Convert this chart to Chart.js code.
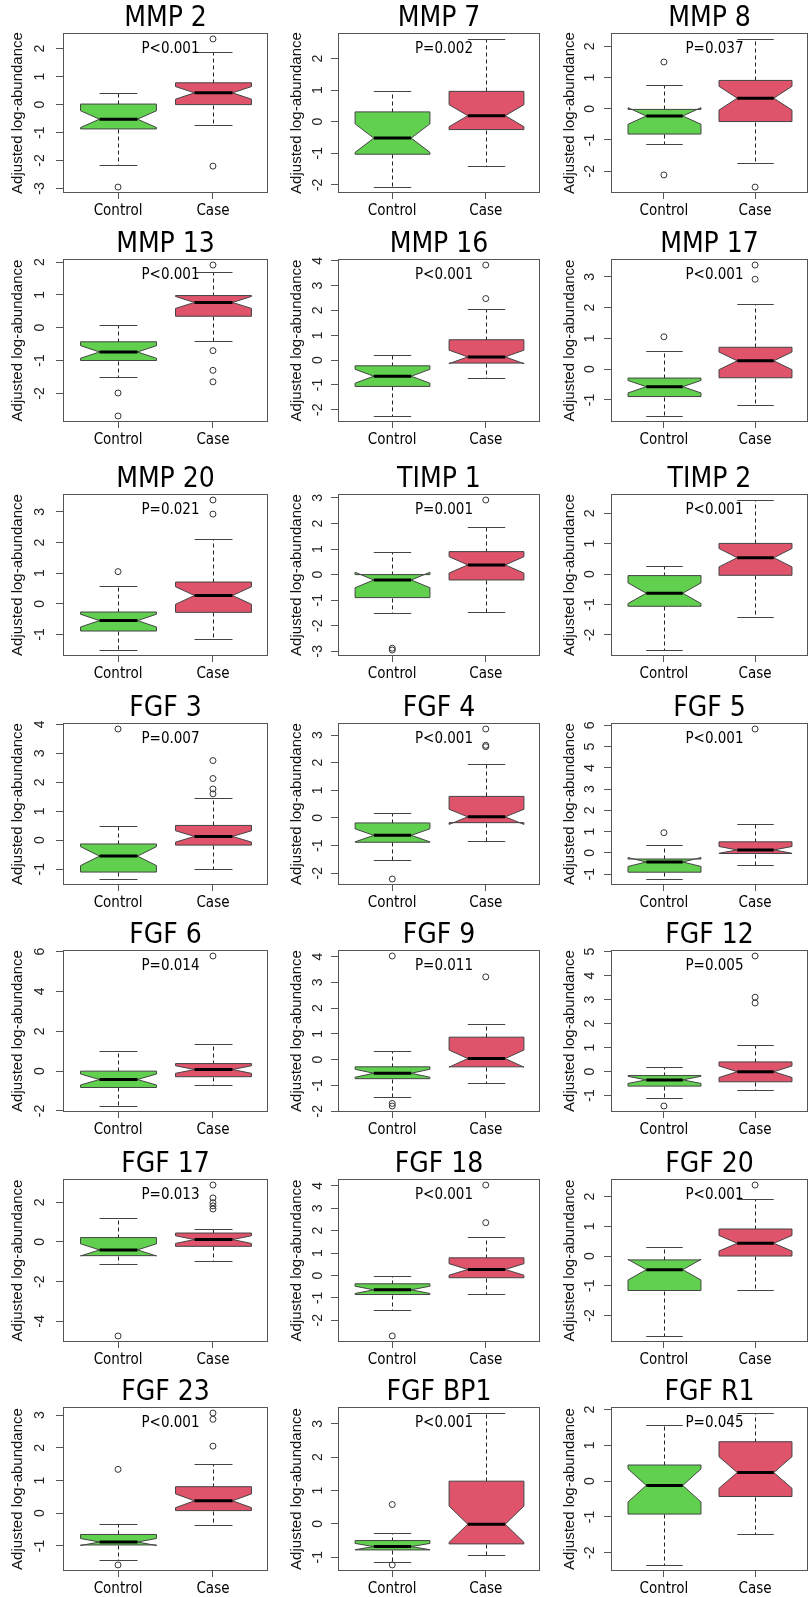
<!DOCTYPE html>
<html>
<head>
<meta charset="utf-8">
<script src="https://cdn.jsdelivr.net/npm/chart.js@4.4.1/dist/chart.umd.min.js"></script>
<style>
  html, body { margin: 0; padding: 0; background: #fff; width: 809px; height: 1597px; overflow: hidden; }
  canvas { position: absolute; }
</style>
</head>
<body>
<script>
// ── Data ──────────────────────────────────────────────────────
const titles = ['MMP 2', 'MMP 7', 'MMP 8', 'MMP 13', 'MMP 16', 'MMP 17', 'MMP 20', 'TIMP 1', 'TIMP 2',
  'FGF 3', 'FGF 4', 'FGF 5', 'FGF 6', 'FGF 9', 'FGF 12', 'FGF 17', 'FGF 18', 'FGF 20', 'FGF 23', 'FGF BP1', 'FGF R1'];
const pValues = ['P<0.001', 'P=0.002', 'P=0.037', 'P<0.001', 'P<0.001', 'P<0.001', 'P=0.021', 'P=0.001', 'P<0.001',
  'P=0.007', 'P<0.001', 'P<0.001', 'P=0.014', 'P=0.011', 'P=0.005', 'P=0.013', 'P<0.001', 'P<0.001', 'P<0.001', 'P<0.001', 'P=0.045'];
const tickStep = [1, 1, 1, 1, 1, 1, 1, 1, 1, 1, 1, 1, 2, 1, 1, 2, 1, 1, 1, 1, 1];
const groupLabels = ['Control', 'Case'];
const nControl = 22, nCase = 30;

const ctrlLow  = [-2.17, -2.07, -1.14, -1.51, -2.25, -1.52, -1.51, -1.51, -2.50, -1.34, -1.51, -1.23, -1.75, -1.47, -1.12, -1.11, -1.52, -2.69, -1.44, -1.15, -2.34];
const ctrlQ1   = [-0.87, -1.03, -0.81, -1.00, -1.06, -0.89, -0.89, -0.90, -1.06, -1.10, -0.88, -0.91, -0.82, -0.74, -0.61, -0.69, -0.85, -1.16, -0.97, -0.78, -0.92];
const ctrlMed  = [-0.52, -0.52, -0.23, -0.74, -0.65, -0.57, -0.55, -0.21, -0.63, -0.55, -0.63, -0.43, -0.42, -0.53, -0.35, -0.40, -0.64, -0.46, -0.88, -0.68, -0.12];
const ctrlQ3   = [0.02, 0.31, -0.02, -0.43, -0.23, -0.29, -0.27, 0.00, -0.05, -0.13, -0.18, -0.29, 0.00, -0.28, -0.17, 0.22, -0.37, -0.13, -0.65, -0.50, 0.45];
const ctrlHigh = [0.42, 0.96, 0.75, 0.07, 0.20, 0.58, 0.59, 0.87, 0.27, 0.49, 0.19, 0.35, 1.00, 0.33, 0.18, 1.19, -0.03, 0.31, -0.32, -0.26, 1.56];
const ctrlOut  = [[-2.95], [], [1.50, -2.12], [-1.99, -2.69], [], [1.05], [1.05], [-2.88, -2.95], [], [3.84], [-2.21], [0.95],
  [], [4.02, -1.70, -1.80], [-1.44], [-4.74], [-2.70], [], [1.34, -1.58], [0.58, -1.23], []];

const caseLow  = [-0.72, -1.39, -1.74, -0.40, -0.73, -1.16, -1.15, -1.45, -1.40, -0.98, -0.84, -0.57, -0.68, -0.90, -0.79, -0.94, -0.81, -1.13, -0.37, -0.92, -1.48];
const caseQ1   = [0.00, -0.25, -0.41, 0.35, -0.12, -0.28, -0.28, -0.21, -0.04, -0.17, -0.17, -0.03, -0.28, -0.28, -0.43, -0.22, -0.10, 0.00, 0.08, -0.60, -0.43];
const caseMed  = [0.42, 0.19, 0.34, 0.77, 0.13, 0.27, 0.27, 0.38, 0.54, 0.13, 0.04, 0.14, 0.08, 0.04, -0.01, 0.12, 0.27, 0.43, 0.38, -0.01, 0.24];
const caseQ3   = [0.78, 0.96, 0.91, 0.98, 0.82, 0.71, 0.71, 0.90, 1.01, 0.51, 0.78, 0.52, 0.38, 0.87, 0.40, 0.45, 0.79, 0.91, 0.81, 1.28, 1.10];
const caseHigh = [1.89, 2.62, 2.24, 1.69, 2.05, 2.12, 2.13, 1.87, 2.44, 1.46, 1.96, 1.37, 1.35, 1.40, 1.10, 0.66, 1.73, 1.92, 1.51, 3.32, 1.90];
const caseOut  = [[2.35, -2.20], [], [-2.51], [1.91, -0.70, -1.30, -1.65], [3.83, 2.48], [3.38, 2.92], [3.39, 2.93], [2.92], [],
  [2.75, 2.13, 1.77, 1.60], [3.22, 2.63, 2.58], [5.83], [5.78], [3.21], [4.82, 3.10, 2.86], [2.87, 2.22, 1.98, 1.82, 1.66],
  [4.04, 2.36], [2.39], [3.06, 2.87, 2.05], [], []];

// ── Layout ────────────────────────────────────────────────────
const rowTop    = [33, 259, 494, 723, 950, 1179, 1407];
const rowBottom = [193, 422, 656, 885, 1112, 1342, 1571];
const colCanvasLeft = [0, 279, 552];
const colBoxLeft    = [63, 338, 611];
const colBoxRight   = [268, 540, 808];
const colTickPad    = [10, 7, 8];
const TITLE_H = 34, XAXIS_H = 28;

const COND = "'DejaVu Sans Condensed', 'Liberation Sans Narrow', sans-serif";
const SANS = "'Liberation Sans', Arial, sans-serif";
const FILLS = ['#61D04F', '#DF536B'];

// ── Box drawing plugin (R style notched boxplot) ──────────────
const boxPlugin = {
  id: 'boxes',
  beforeDatasetsDraw(chart, args, opts) {
    const { ctx, scales: { x, y } } = chart;
    const py = v => Math.round(y.getPixelForValue(v)) + 0.5;
    ctx.save();
    opts.groups.forEach((g, k) => {
      const cx = Math.round(x.getPixelForValue(k + 1)) + 0.5;
      const w = x.getPixelForValue(k + 1.4) - x.getPixelForValue(k + 1);
      const notch = 1.58 * (g.q3 - g.q1) / Math.sqrt(g.n);

      // whiskers
      ctx.strokeStyle = '#222';
      ctx.lineWidth = 1;
      ctx.setLineDash([4, 3]);
      ctx.beginPath();
      ctx.moveTo(cx, py(g.q3)); ctx.lineTo(cx, py(g.high));
      ctx.moveTo(cx, py(g.q1)); ctx.lineTo(cx, py(g.low));
      ctx.stroke();
      ctx.setLineDash([]);

      // staples
      ctx.strokeStyle = '#444';
      ctx.beginPath();
      ctx.moveTo(cx - w / 2, py(g.high)); ctx.lineTo(cx + w / 2, py(g.high));
      ctx.moveTo(cx - w / 2, py(g.low)); ctx.lineTo(cx + w / 2, py(g.low));
      ctx.stroke();

      // notched box
      const pts = [[-1, g.q1], [1, g.q1], [1, g.med - notch], [0.5, g.med], [1, g.med + notch],
                   [1, g.q3], [-1, g.q3], [-1, g.med + notch], [-0.5, g.med], [-1, g.med - notch]];
      ctx.beginPath();
      pts.forEach(([f, v], j) => {
        const px = cx + f * w, yy = y.getPixelForValue(v);
        if (j === 0) ctx.moveTo(px, yy); else ctx.lineTo(px, yy);
      });
      ctx.closePath();
      ctx.fillStyle = FILLS[k];
      ctx.fill();
      ctx.strokeStyle = '#444';
      ctx.stroke();

      // median
      ctx.strokeStyle = '#000';
      ctx.lineWidth = 3;
      ctx.beginPath();
      ctx.moveTo(cx - w / 2, y.getPixelForValue(g.med));
      ctx.lineTo(cx + w / 2, y.getPixelForValue(g.med));
      ctx.stroke();
    });
    ctx.restore();
  },
  afterDraw(chart, args, opts) {
    const { ctx, chartArea: a } = chart;
    ctx.save();
    ctx.strokeStyle = '#555';
    ctx.lineWidth = 1;
    ctx.strokeRect(a.left + 0.5, a.top + 0.5, a.width - 1, a.height - 1);
    ctx.fillStyle = '#000';
    ctx.font = `15px ${COND}`;
    ctx.textAlign = 'center';
    ctx.textBaseline = 'middle';
    ctx.fillText(opts.p, a.left + a.width / 2 + 5, a.top + 16);
    ctx.restore();
  }
};

// ── Build the 21 panels ───────────────────────────────────────
titles.forEach((title, i) => {
  const row = Math.floor(i / 3), col = i % 3;
  const boxH = rowBottom[row] - rowTop[row];
  const cv = document.createElement('canvas');
  const cw = col === 2 ? 809 - colCanvasLeft[col] : colBoxRight[col] - colCanvasLeft[col] + 1;
  const ch = TITLE_H + boxH + XAXIS_H;
  cv.width = cw; cv.height = ch;
  cv.style.left = colCanvasLeft[col] + 'px';
  cv.style.top = (rowTop[row] - TITLE_H) + 'px';
  cv.style.width = cw + 'px'; cv.style.height = ch + 'px';
  document.body.appendChild(cv);

  const groups = [
    { low: ctrlLow[i], q1: ctrlQ1[i], med: ctrlMed[i], q3: ctrlQ3[i], high: ctrlHigh[i], n: nControl },
    { low: caseLow[i], q1: caseQ1[i], med: caseMed[i], q3: caseQ3[i], high: caseHigh[i], n: nCase }
  ];
  const all = [ctrlLow[i], ctrlHigh[i], caseLow[i], caseHigh[i], ...ctrlOut[i], ...caseOut[i]];
  const lo = Math.min(...all), hi = Math.max(...all), ext = (hi - lo) * 0.04;
  const axisW = colBoxLeft[col] - colCanvasLeft[col];
  const rightPad = cw - (colBoxRight[col] - colCanvasLeft[col]);

  const pointStyle = {
    pointRadius: 3, pointBorderWidth: 1, pointBorderColor: '#333',
    pointBackgroundColor: 'rgba(0,0,0,0)', showLine: false
  };

  new Chart(cv, {
    type: 'scatter',
    data: {
      datasets: [
        { data: ctrlOut[i].map(v => ({ x: 1, y: v })), ...pointStyle },
        { data: caseOut[i].map(v => ({ x: 2, y: v })), ...pointStyle }
      ]
    },
    options: {
      responsive: false,
      animation: false,
      devicePixelRatio: 1,
      layout: { padding: { left: 0, right: rightPad, top: 0, bottom: 0 }, autoPadding: false },
      plugins: {
        legend: { display: false },
        tooltip: { enabled: false },
        title: {
          display: true, text: title, fullSize: false, color: '#000',
          font: { family: COND, size: 28, weight: 'normal', lineHeight: 1 },
          padding: { top: 6, bottom: 0 }
        },
        boxes: { groups, p: pValues[i] }
      },
      scales: {
        x: {
          type: 'linear', min: 0.42, max: 2.58,
          afterBuildTicks: s => { s.ticks = [{ value: 1 }, { value: 2 }]; },
          afterFit: s => { s.height = XAXIS_H; },
          ticks: {
            autoSkip: false, maxRotation: 0, padding: 3, color: '#000',
            font: { family: COND, size: 15 },
            callback: v => groupLabels[v - 1]
          },
          grid: { drawOnChartArea: false, drawTicks: true, tickLength: 6, color: '#555' },
          border: { display: false }
        },
        y: {
          type: 'linear', min: lo - ext, max: hi + ext,
          afterFit: s => { s.width = axisW; },
          ticks: {
            stepSize: tickStep[i], includeBounds: false, autoSkip: false,
            minRotation: 90, maxRotation: 90, crossAlign: 'center',
            padding: colTickPad[col], color: '#222',
            font: { family: SANS, size: 14 }
          },
          grid: { drawOnChartArea: false, drawTicks: true, tickLength: 7, color: '#555' },
          border: { display: false },
          title: {
            display: true, text: 'Adjusted log-abundance', color: '#111',
            font: { family: SANS, size: 15 }, padding: { top: 9, bottom: 0 }
          }
        }
      }
    },
    plugins: [boxPlugin]
  });
});
</script>
</body>
</html>
